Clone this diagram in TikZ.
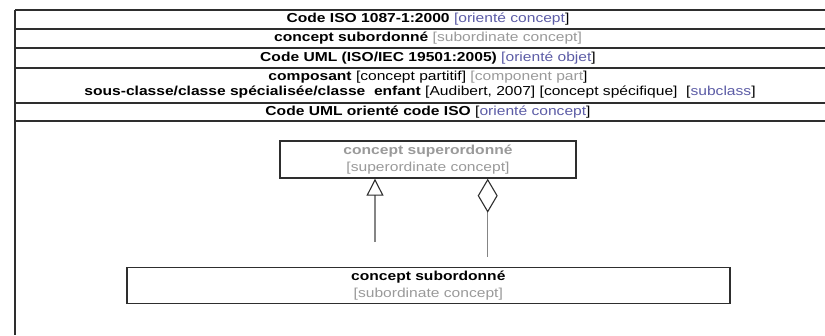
\documentclass[tikz,border=0pt]{standalone}
\usepackage{fontspec}
\setmainfont{Liberation Sans}[FakeStretch=1.2]
\usetikzlibrary{arrows.meta}
\definecolor{conceptblue}{HTML}{5C5CA6}
\definecolor{termgray}{HTML}{9A9A9A}
\definecolor{rulecol}{HTML}{2E2E2E}
\definecolor{linkgray}{HTML}{858585}
\tikzset{
  rule/.style={draw=rulecol, line width=1.4pt},
  rowtext/.style={inner sep=0pt, font=\fontsize{13}{15}\selectfont, align=center},
  conceptbox/.style={draw=rulecol, line width=1.4pt, inner sep=0pt, align=center,
    font=\fontsize{13}{17}\selectfont},
  link/.style={draw=linkgray, line width=1.1pt},
}
\begin{document}
\begin{tikzpicture}[x=1pt, y=-1pt]
\useasboundingbox (0,0) rectangle (825,335);
\fill[white] (0,0) rectangle (825,335);

% table frame and row rules
\draw[rule] (15,10) -- (15,335);
\foreach \yy in {10,29,48,68,103,121}
  \draw[rule] (15,\yy) -- (825,\yy);

% table rows
\node[rowtext] (rowiso) at (428,19.5)
  {\textbf{Code ISO 1087-1:2000} {\color{conceptblue}[orienté concept}]};
\node[rowtext] (rowsub) at (428,38.5)
  {\textbf{concept subordonné} \textcolor{termgray}{[subordinate concept]}};
\node[rowtext] (rowuml) at (428,58)
  {\textbf{Code UML (ISO/IEC 19501:2005)} {\color{conceptblue}[orienté objet}]};
\node[rowtext] (rowcomp) at (428,77.5)
  {\textbf{composant} [concept partitif] {\color{termgray}[component part}]};
\node[rowtext] (rowclass) at (420,92)
  {\textbf{sous-classe/classe spécialisée/classe\ \ enfant} [Audibert, 2007] [concept spécifique]\ \ [\textcolor{conceptblue}{subclass}]};
\node[rowtext] (rowmap) at (428,112)
  {\textbf{Code UML orienté code ISO} [\textcolor{conceptblue}{orienté concept}]};

% concept boxes
\node[conceptbox, minimum width=296pt, minimum height=37pt, text=termgray] (sup) at (428,159.5)
  {\textbf{concept superordonné}\\{}[superordinate concept]};
\node[conceptbox, minimum width=603pt, minimum height=35.5pt] (sub) at (428.3,285.5)
  {\textbf{concept subordonné}\\\textcolor{termgray}{[subordinate concept]}};

% generalisation and aggregation links
\coordinate (genfoot) at (375,242);
\coordinate (aggfoot) at (487.7,256.7);
\draw[link, -{Triangle[open, length=17pt, width=17pt, color=rulecol, line width=1.1pt]}]
  (genfoot) -- (genfoot |- sup.south);
\draw[link, -{Diamond[open, length=34pt, width=20pt, color=rulecol, line width=1.1pt]}]
  (aggfoot) -- (aggfoot |- sup.south);
\end{tikzpicture}
\end{document}
